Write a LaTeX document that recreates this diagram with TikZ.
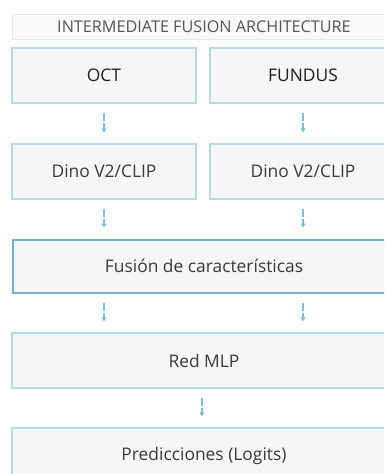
\documentclass[tikz,border=0pt]{standalone}
\usepackage{fontspec}
\setmainfont{Open Sans}
\usetikzlibrary{arrows.meta}
\definecolor{boxfill}{HTML}{F6F6F6}
\definecolor{boxline}{HTML}{B4DCE7}
\definecolor{fuseline}{HTML}{6DB3CB}
\definecolor{titlefill}{HTML}{F8F8F8}
\definecolor{titleline}{HTML}{E6E6E6}
\definecolor{arrowcol}{HTML}{7CC0D6}
\definecolor{txt}{HTML}{3A3A3A}
\definecolor{darktxt}{HTML}{1E1E1E}
\definecolor{titletxt}{HTML}{555555}
\tikzset{
  x=1pt, y=-1pt,
  stage/.style={draw=boxline, line width=1.3pt, fill=boxfill, inner sep=0pt,
    text=txt, font=\fontsize{17.4}{20}\selectfont},
  inputbox/.style={stage, text=darktxt},
  fusebox/.style={stage, draw=fuseline, line width=2pt},
  titlebox/.style={draw=titleline, line width=1pt, fill=titlefill, inner sep=0pt,
    text=titletxt, font=\fontsize{16.2}{19}\selectfont},
  flow/.style={draw=arrowcol, line width=1.2pt, dash pattern=on 8pt off 2pt,
    -{Triangle[width=5pt,length=4pt]}, shorten <=9pt, shorten >=11pt},
}
\begin{document}
\begin{tikzpicture}
\useasboundingbox (0,0) rectangle (384,474);
\clip (0,0) rectangle (384,474);
\fill[white] (0,0) rectangle (384,474);

% header
\node[titlebox, minimum width=384pt, minimum height=25pt] (title) at (204,26.5)
  {INTERMEDIATE FUSION ARCHITECTURE};

% inputs
\node[inputbox, minimum width=184pt, minimum height=55pt] (oct) at (104,75.5) {OCT};
\node[inputbox, minimum width=186pt, minimum height=55pt] (fundus) at (303,75.5) {FUNDUS};

% encoders
\node[stage, minimum width=184pt, minimum height=55pt] (encL) at (104,171.5) {Dino V2/CLIP};
\node[stage, minimum width=186pt, minimum height=55pt] (encR) at (303,171.5) {Dino V2/CLIP};

% fusion, head and output
\node[fusebox, minimum width=383pt, minimum height=53pt] (fuse) at (204,266) {Fusión de características};
\node[stage, minimum width=384pt, minimum height=55pt] (mlp) at (204,360.5) {Red MLP};
\node[stage, minimum width=384pt, minimum height=55pt] (pred) at (204,455.5) {Predicciones (Logits)};

% connectors
\draw[flow] (oct.south) -- (encL.north);
\draw[flow] (fundus.south) -- (encR.north);
\draw[flow] (encL.south) -- (fuse.north -| encL.south);
\draw[flow] (encR.south) -- (fuse.north -| encR.south);
\draw[flow] (fuse.south -| oct.south) -- (mlp.north -| oct.south);
\draw[flow] (fuse.south -| fundus.south) -- (mlp.north -| fundus.south);
\draw[flow] ([xshift=-2pt]mlp.south) -- ([xshift=-2pt]pred.north);
\end{tikzpicture}
\end{document}
